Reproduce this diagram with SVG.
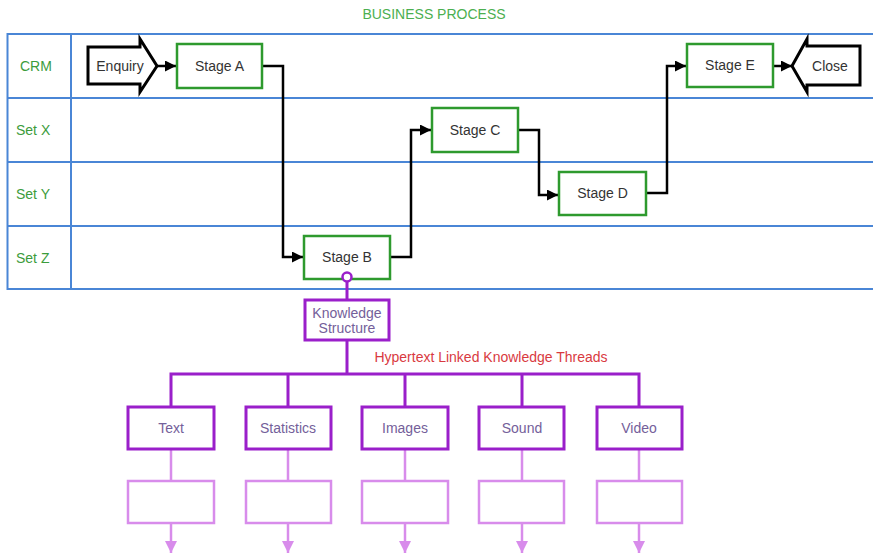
<svg xmlns="http://www.w3.org/2000/svg" width="873" height="558" viewBox="0 0 873 558">
<defs>
<style>
.lane{stroke:#4a86d6;stroke-width:2;fill:none}
.lbl{font-family:"Liberation Sans",Arial,sans-serif;font-size:14px;fill:#3c9c3c}
.stage rect{fill:#fff;stroke:#2e9a2e;stroke-width:2.5}
.st{font-family:"Liberation Sans",Arial,sans-serif;font-size:14px;fill:#333;text-anchor:middle}
.blk{fill:#fff;stroke:#000;stroke-width:3;stroke-linejoin:miter}
.con{fill:none;stroke:#000;stroke-width:2.5}
.pd{fill:#fff;stroke:#9a1fca;stroke-width:3}
.pl{fill:#fff;stroke:#d88ceb;stroke-width:2.5}
.pdl{fill:none;stroke:#9a1fca;stroke-width:3}
.pll{fill:none;stroke:#d88ceb;stroke-width:2.5}
.pt{font-family:"Liberation Sans",Arial,sans-serif;font-size:14px;fill:#74609a;text-anchor:middle}
</style>
<marker id="ah" viewBox="0 0 10 10" refX="10" refY="5" markerWidth="5.2" markerHeight="4.4" orient="auto" markerUnits="strokeWidth">
<path d="M0,0 L10,5 L0,10 z" fill="#000"/>
</marker>
<marker id="ahp" viewBox="0 0 10 10" refX="10" refY="5" markerWidth="5" markerHeight="5" orient="auto" markerUnits="strokeWidth">
<path d="M0,0 L10,5 L0,10 z" fill="#d88ceb"/>
</marker>
</defs>
<rect width="873" height="558" fill="#fff"/>
<text x="434" y="19" text-anchor="middle" font-family="Liberation Sans, Arial, sans-serif" font-size="14" fill="#4caf50">BUSINESS PROCESS</text>

<g id="swimlanes">
<path class="lane" d="M873,34 H7.5 V289 H873 M71,34 V289 M7.5,98 H873 M7.5,162 H873 M7.5,226 H873"/>
<text class="lbl" x="20" y="71">CRM</text>
<text class="lbl" x="16" y="135">Set X</text>
<text class="lbl" x="16" y="199">Set Y</text>
<text class="lbl" x="16" y="263">Set Z</text>
</g>

<g id="connectors">
<path class="con" d="M157,66 H176" marker-end="url(#ah)"/>
<path class="con" d="M262,66 H283 V257 H303" marker-end="url(#ah)"/>
<path class="con" d="M390,257 H411 V130 H431" marker-end="url(#ah)"/>
<path class="con" d="M518,130 H539 V195 H558" marker-end="url(#ah)"/>
<path class="con" d="M646,193 H667 V66 H686" marker-end="url(#ah)"/>
<path class="con" d="M773,66 H792" marker-end="url(#ah)"/>
<path class="pdl" d="M347,281 V300 M347,340 V374 M171,407 V374 H639 V407 M288,374 V407 M405,374 V407 M522,374 V407"/>
<path class="pll" d="M171,449 V481 M288,449 V481 M405,449 V481 M522,449 V481 M639,449 V481"/>
<path class="pll" d="M171,523 V553" marker-end="url(#ahp)"/>
<path class="pll" d="M288,523 V553" marker-end="url(#ahp)"/>
<path class="pll" d="M405,523 V553" marker-end="url(#ahp)"/>
<path class="pll" d="M522,523 V553" marker-end="url(#ahp)"/>
<path class="pll" d="M639,523 V553" marker-end="url(#ahp)"/>
</g>

<g id="enquiry">
<polygon class="blk" points="88,47 140,47 140,39 157,66 140,92 140,84 88,84"/>
<text class="st" x="120" y="71">Enquiry</text>
</g>
<g id="close">
<polygon class="blk" points="792,66 807,39 807,46 860,46 860,85 807,85 807,92"/>
<text class="st" x="830" y="71">Close</text>
</g>
<g id="stageA" class="stage"><rect x="177" y="44" width="85" height="44"/><text class="st" x="219.5" y="71">Stage A</text></g>
<g id="stageB" class="stage"><rect x="304" y="236" width="86" height="43"/><text class="st" x="347" y="262">Stage B</text></g>
<g id="stageC" class="stage"><rect x="432" y="108" width="86" height="44"/><text class="st" x="475" y="135">Stage C</text></g>
<g id="stageD" class="stage"><rect x="559" y="172" width="87" height="43"/><text class="st" x="602.5" y="198">Stage D</text></g>
<g id="stageE" class="stage"><rect x="687" y="44" width="86" height="43"/><text class="st" x="730" y="70">Stage E</text></g>
<circle cx="347" cy="277" r="4.5" fill="#fff" stroke="#9a1fca" stroke-width="2.5"/>

<g id="knowledge">
<rect class="pd" x="305" y="300" width="84" height="40"/>
<text class="pt" x="347" y="318">Knowledge</text>
<text class="pt" x="347" y="333">Structure</text>
</g>
<text x="491" y="362" text-anchor="middle" font-family="Liberation Sans, Arial, sans-serif" font-size="14" fill="#d93a3f">Hypertext Linked Knowledge Threads</text>

<g id="text"><rect class="pd" x="128" y="407" width="86" height="42"/><text class="pt" x="171" y="433">Text</text></g>
<g id="statistics"><rect class="pd" x="246" y="407" width="85" height="42"/><text class="pt" x="288" y="433">Statistics</text></g>
<g id="images"><rect class="pd" x="362" y="407" width="86" height="42"/><text class="pt" x="405" y="433">Images</text></g>
<g id="sound"><rect class="pd" x="479" y="407" width="85" height="42"/><text class="pt" x="522" y="433">Sound</text></g>
<g id="video"><rect class="pd" x="597" y="407" width="85" height="42"/><text class="pt" x="639" y="433">Video</text></g>

<g id="sub1"><rect class="pl" x="128" y="481" width="86" height="42"/></g>
<g id="sub2"><rect class="pl" x="246" y="481" width="85" height="42"/></g>
<g id="sub3"><rect class="pl" x="362" y="481" width="86" height="42"/></g>
<g id="sub4"><rect class="pl" x="479" y="481" width="85" height="42"/></g>
<g id="sub5"><rect class="pl" x="597" y="481" width="85" height="42"/></g>
</svg>
